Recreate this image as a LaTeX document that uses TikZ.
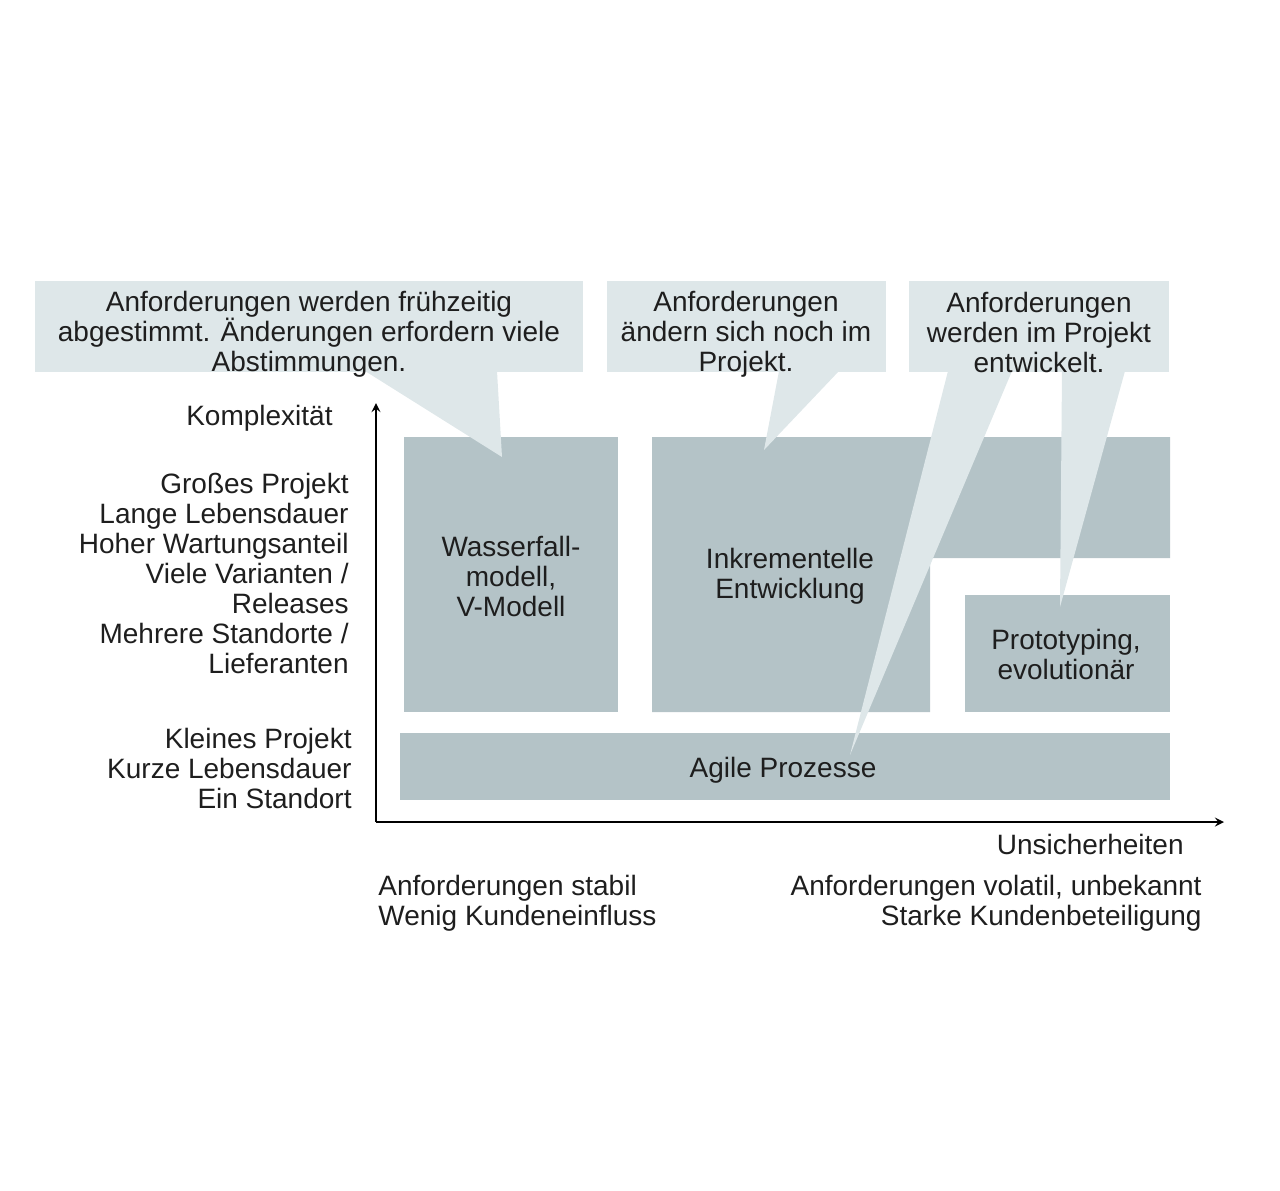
\documentclass[tikz,border=0pt]{standalone}
\usepackage{fontspec}
\setmainfont{Liberation Sans}
\usepackage{tikz}
\usetikzlibrary{positioning,calc}
\definecolor{blockgrey}{RGB}{180,195,199}
\definecolor{calloutgrey}{RGB}{222,231,233}
\definecolor{textgrey}{RGB}{30,30,30}

\begin{document}
\begin{tikzpicture}
[x=0.5pt,y=-0.5pt,>=stealth,
 block/.style = {fill = blockgrey, inner sep = 0pt},
 callout/.style = {fill = calloutgrey, inner sep = 0pt},
 txt/.style = {text = textgrey, inner sep = 0pt, align = center, font = \fontsize{14}{15}\selectfont},]
\useasboundingbox (0,0) rectangle (1280,1190);

% blocks
\node (WF) at (511,574.5)[block, minimum width = 107pt, minimum height = 137.5pt] {};
\fill[blockgrey] (652,437) -- (1170,437) -- (1170,558) -- (930,558) -- (930,712) -- (652,712) -- cycle;
\node (PT) at (1067.5,653.5)[block, minimum width = 102.5pt, minimum height = 58.5pt] {};
\node (AG) at (785,766.5)[block, minimum width = 385pt, minimum height = 33.5pt] {};

\node (WFt) at (511,576)[txt] {Wasserfall-\\modell,\\V-Modell};
\node (INt) at (790,576)[txt] {Inkrementelle\\Entwicklung};
\node (PTt) at (1066,654)[txt] {Prototyping,\\evolution\"ar};
\node (AGt) at (783,770)[txt] {Agile Prozesse};

% callouts
\node (C1) at (309,326.5)[callout, minimum width = 274pt, minimum height = 45.5pt] {};
\node (C2) at (746.5,326.5)[callout, minimum width = 139.5pt, minimum height = 45.5pt] {};
\node (C3) at (1039,326.5)[callout, minimum width = 130pt, minimum height = 45.5pt] {};

\fill[calloutgrey] (365,371) -- (497,371) -- (502,457) -- cycle;
\fill[calloutgrey] (779,371) -- (839,371) -- (764,450) -- cycle;
\fill[calloutgrey] (948,371) -- (1012,371) -- (850,755) -- cycle;
\fill[calloutgrey] (1062,371) -- (1125,371) -- (1060,607) -- cycle;

\node (C1t) at (309,334)[txt] {Anforderungen werden fr\"uhzeitig\\abgestimmt. \"Anderungen erfordern viele\\Abstimmungen.};
\node (C2t) at (746,334)[txt] {Anforderungen\\\"andern sich noch im\\Projekt.};
\node (C3t) at (1039,332)[txt] {Anforderungen\\werden im Projekt\\entwickelt.};

% axes
\coordinate (O) at (376,822);
\coordinate (Y) at (376,403);
\coordinate (X) at (1224,822);
\draw[line width = 1pt,->] (O)--(Y);
\draw[line width = 1pt,->] (O)--(X);

\node (K) at (333,418)[txt, anchor = east] {Komplexit\"at};
\node (Gr) at (349,573)[txt, anchor = east, align = right] {Gro\ss es Projekt\\Lange Lebensdauer\\Hoher Wartungsanteil\\Viele Varianten /\\Releases\\Mehrere Standorte /\\Lieferanten};
\node (Kl) at (352,768)[txt, anchor = east, align = right] {Kleines Projekt\\Kurze Lebensdauer\\Ein Standort};

\node (U) at (1184,844)[txt, anchor = east] {Unsicherheiten};
\node (St) at (378,903)[txt, anchor = west, align = left] {Anforderungen stabil\\Wenig Kundeneinfluss};
\node (Vo) at (1202,903)[txt, anchor = east, align = right] {Anforderungen volatil, unbekannt\\Starke Kundenbeteiligung};

\end{tikzpicture}
\end{document}
